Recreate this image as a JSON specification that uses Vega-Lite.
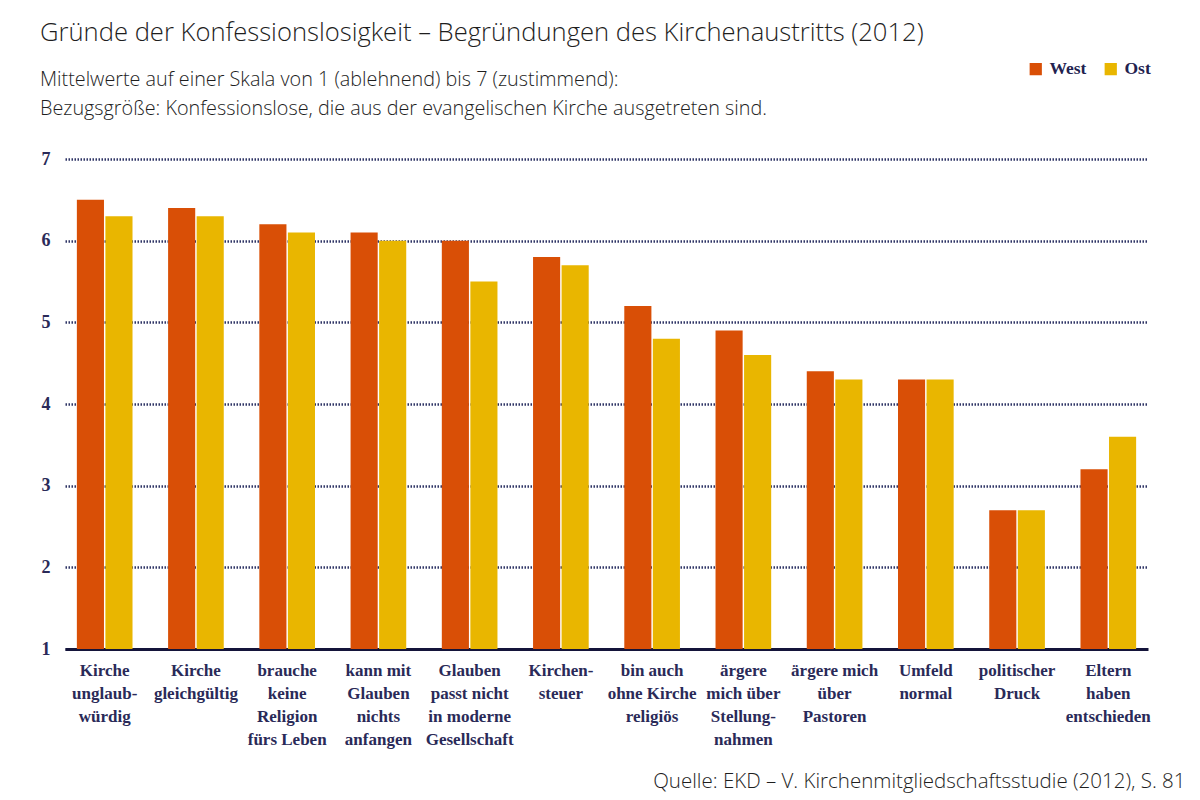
{
  "$schema": "https://vega.github.io/schema/vega-lite/v6.json",
  "autosize": {"type": "none"},
  "padding": {"left": 65, "top": 159, "right": 52, "bottom": 151},
  "width": 1083,
  "height": 490,
  "background": "white",
  "title": {
    "text": "Gründe der Konfessionslosigkeit – Begründungen des Kirchenaustritts (2012)",
    "subtitle": ["Mittelwerte auf einer Skala von 1 (ablehnend) bis 7 (zustimmend):", "Bezugsgröße: Konfessionslose, die aus der evangelischen Kirche ausgetreten sind."],
    "anchor": "start",
    "frame": "group",
    "dx": -25,
    "offset": -59,
    "font": "Open Sans",
    "fontSize": 25.6,
    "fontWeight": 300,
    "color": "#1e1e1e",
    "subtitleFont": "Open Sans",
    "subtitleFontSize": 19.8,
    "subtitleFontWeight": 300,
    "subtitleColor": "#1e1e1e",
    "subtitleLineHeight": 29,
    "subtitlePadding": 24
  },
  "data": {
    "values": [
      {"grund": "Kirche|unglaub-|würdig", "region": "West", "wert": 6.5},
      {"grund": "Kirche|unglaub-|würdig", "region": "Ost", "wert": 6.3},
      {"grund": "Kirche|gleichgültig", "region": "West", "wert": 6.4},
      {"grund": "Kirche|gleichgültig", "region": "Ost", "wert": 6.3},
      {"grund": "brauche|keine|Religion|fürs Leben", "region": "West", "wert": 6.2},
      {"grund": "brauche|keine|Religion|fürs Leben", "region": "Ost", "wert": 6.1},
      {"grund": "kann mit|Glauben|nichts|anfangen", "region": "West", "wert": 6.1},
      {"grund": "kann mit|Glauben|nichts|anfangen", "region": "Ost", "wert": 6.0},
      {"grund": "Glauben|passt nicht|in moderne|Gesellschaft", "region": "West", "wert": 6.0},
      {"grund": "Glauben|passt nicht|in moderne|Gesellschaft", "region": "Ost", "wert": 5.5},
      {"grund": "Kirchen-|steuer", "region": "West", "wert": 5.8},
      {"grund": "Kirchen-|steuer", "region": "Ost", "wert": 5.7},
      {"grund": "bin auch|ohne Kirche|religiös", "region": "West", "wert": 5.2},
      {"grund": "bin auch|ohne Kirche|religiös", "region": "Ost", "wert": 4.8},
      {"grund": "ärgere|mich über|Stellung-|nahmen", "region": "West", "wert": 4.9},
      {"grund": "ärgere|mich über|Stellung-|nahmen", "region": "Ost", "wert": 4.6},
      {"grund": "ärgere mich|über|Pastoren", "region": "West", "wert": 4.4},
      {"grund": "ärgere mich|über|Pastoren", "region": "Ost", "wert": 4.3},
      {"grund": "Umfeld|normal", "region": "West", "wert": 4.3},
      {"grund": "Umfeld|normal", "region": "Ost", "wert": 4.3},
      {"grund": "politischer|Druck", "region": "West", "wert": 2.7},
      {"grund": "politischer|Druck", "region": "Ost", "wert": 2.7},
      {"grund": "Eltern|haben|entschieden", "region": "West", "wert": 3.2},
      {"grund": "Eltern|haben|entschieden", "region": "Ost", "wert": 3.6}
    ]
  },
  "mark": {"type": "bar"},
  "encoding": {
    "x": {
      "field": "grund",
      "type": "nominal",
      "sort": null,
      "scale": {"paddingInner": 0.39, "paddingOuter": 0.13},
      "axis": {
        "title": "Quelle: EKD – V. Kirchenmitgliedschaftsstudie (2012), S. 81",
        "titleFont": "Open Sans",
        "titleFontSize": 20.5,
        "titleFontWeight": 300,
        "titleColor": "#1e1e1e",
        "titleAnchor": "end",
        "titleAlign": "right",
        "titleBaseline": "alphabetic",
        "titleX": 1120,
        "titleY": 138,
        "labelExpr": "split(datum.label, '|')",
        "labelAngle": 0,
        "labelFont": "Liberation Serif",
        "labelFontSize": 17,
        "labelFontWeight": "bold",
        "labelColor": "#2a2a58",
        "labelLineHeight": 23.3,
        "labelPadding": 13,
        "labelBaseline": "top",
        "ticks": false,
        "domain": true,
        "domainColor": "#14143a",
        "domainWidth": 3,
        "grid": false
      }
    },
    "xOffset": {
      "field": "region",
      "type": "nominal",
      "sort": ["West", "Ost"],
      "scale": {"paddingInner": 0.05}
    },
    "y": {
      "field": "wert",
      "type": "quantitative",
      "scale": {"domain": [1, 7], "nice": false, "zero": false},
      "axis": {
        "title": null,
        "values": [1, 2, 3, 4, 5, 6, 7],
        "format": "d",
        "labelFont": "Liberation Serif",
        "labelFontSize": 18,
        "labelFontWeight": "bold",
        "labelColor": "#2a2a58",
        "labelPadding": 15,
        "ticks": false,
        "domain": false,
        "grid": true,
        "gridColor": "#2f3566",
        "gridDash": [1.5, 1.5],
        "gridWidth": 2.5
      }
    },
    "y2": {"datum": 1},
    "color": {
      "field": "region",
      "type": "nominal",
      "scale": {"domain": ["West", "Ost"], "range": ["#d94f06", "#e9b600"]},
      "legend": {
        "title": null,
        "orient": "none",
        "direction": "horizontal",
        "legendX": 962,
        "legendY": -99,
        "symbolType": "square",
        "symbolSize": 150,
        "symbolStrokeWidth": 0,
        "labelFont": "Liberation Serif",
        "labelFontSize": 17.5,
        "labelFontWeight": "bold",
        "labelColor": "#22224f",
        "labelOffset": 5,
        "columnPadding": 15
      }
    }
  },
  "config": {
    "view": {"stroke": null}
  }
}
